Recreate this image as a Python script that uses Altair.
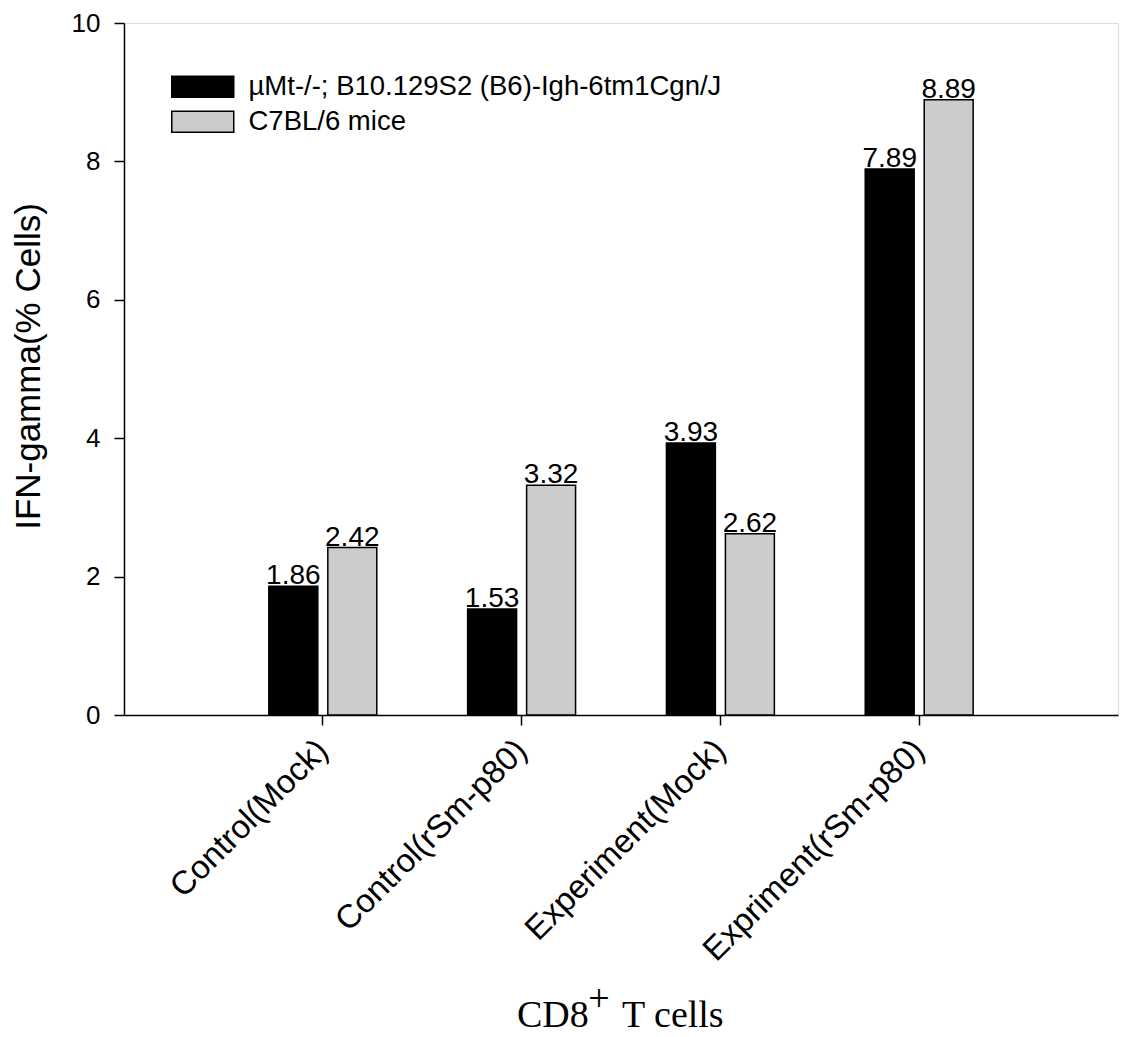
import altair as alt
import pandas as pd

categories = ["Control(Mock)", "Control(rSm-p80)", "Experiment(Mock)", "Expriment(rSm-p80)"]
series = ["µMt-/-; B10.129S2 (B6)-Igh-6tm1Cgn/J", "C7BL/6 mice"]
values_mt = [1.86, 1.53, 3.93, 7.89]
values_c7 = [2.42, 3.32, 2.62, 8.89]
y_ticks = [0, 2, 4, 6, 8, 10]
x_title_parts = ["CD8", "+", "T cells"]
y_title = "IFN-gamma(% Cells)"
colors = ["#000000", "#cccccc"]

rows = []
for i, c in enumerate(categories):
    rows.append({"cat": c, "series": series[0], "value": values_mt[i], "label": f"{values_mt[i]:.2f}"})
    rows.append({"cat": c, "series": series[1], "value": values_c7[i], "label": f"{values_c7[i]:.2f}"})
df = pd.DataFrame(rows)

SANS = "Liberation Sans"
SERIF = "Liberation Serif"
W, H = 994, 692

x_enc = alt.X(
    "cat:N", sort=categories,
    scale=alt.Scale(paddingInner=0.457, paddingOuter=0.7285),
    axis=alt.Axis(
        title=None, labelAngle=-45, labelAlign="right", labelBaseline="middle",
        labelFont=SANS, labelFontSize=33, labelColor="black", labelPadding=20,
        tickSize=10, tickColor="black", tickWidth=1.5,
        domainColor="black", domainWidth=1.5, grid=False, labelLimit=0,
    ),
)
xo_enc = alt.XOffset("series:N", sort=series, scale=alt.Scale(paddingInner=0.17, paddingOuter=0))
y_enc = alt.Y(
    "value:Q",
    scale=alt.Scale(domain=[0, 10], nice=False),
    axis=alt.Axis(
        values=y_ticks, title=y_title, titleFont=SANS, titleFontSize=35,
        titleFontWeight="normal", titleColor="black", titleX=-78, titleY=H / 2 - 3,
        titleBaseline="bottom", titleAngle=-90,
        labelFont=SANS, labelFontSize=26, labelColor="black", labelPadding=14,
        tickSize=10, tickColor="black", tickWidth=1.5,
        domainColor="black", domainWidth=1.5, grid=False,
    ),
)
color_enc = alt.Color(
    "series:N", sort=series,
    scale=alt.Scale(domain=series, range=colors),
    legend=alt.Legend(
        title=None, orient="none", legendX=65, legendY=50, padding=0,
        symbolType="M-2.952,-1L2.952,-1L2.952,1L-2.952,1Z", symbolSize=441,
        symbolStrokeColor="black", symbolStrokeWidth=1.5, symbolOpacity=1,
        labelFont=SANS, labelFontSize=27.5, labelColor="black", labelOffset=32,
        rowPadding=6, labelLimit=0,
    ),
)

base = alt.Chart(df)
bars = base.mark_bar(stroke="black", strokeWidth=1.5).encode(
    x=x_enc, xOffset=xo_enc, y=y_enc, color=color_enc
)
labels = base.mark_text(
    baseline="alphabetic", dy=-2, font=SANS, fontSize=28, color="black"
).encode(x=x_enc, xOffset=xo_enc, y=y_enc, text="label:N")

t1 = alt.Chart(pd.DataFrame({"t": [x_title_parts[0]]})).mark_text(
    align="left", baseline="alphabetic", font=SERIF, fontSize=38, color="black"
).encode(text="t:N", x=alt.value(393), y=alt.value(1004))
t2 = alt.Chart(pd.DataFrame({"t": [x_title_parts[1]]})).mark_text(
    align="center", baseline="alphabetic", font=SERIF, fontSize=38, color="black"
).encode(text="t:N", x=alt.value(475), y=alt.value(988))
t3 = alt.Chart(pd.DataFrame({"t": [x_title_parts[2]]})).mark_text(
    align="left", baseline="alphabetic", font=SERIF, fontSize=38, color="black"
).encode(text="t:N", x=alt.value(498), y=alt.value(1004))

chart = alt.layer(bars, labels, t1, t2, t3).properties(
    width=W, height=H,
    autosize=alt.AutoSizeParams(type="none"),
    padding={"left": 116, "top": 15, "right": 1, "bottom": 330},
).configure_view(stroke="black", strokeWidth=1.5).configure(background="white")

chart.save("out.html", embed_options={"renderer": "svg", "actions": False})
